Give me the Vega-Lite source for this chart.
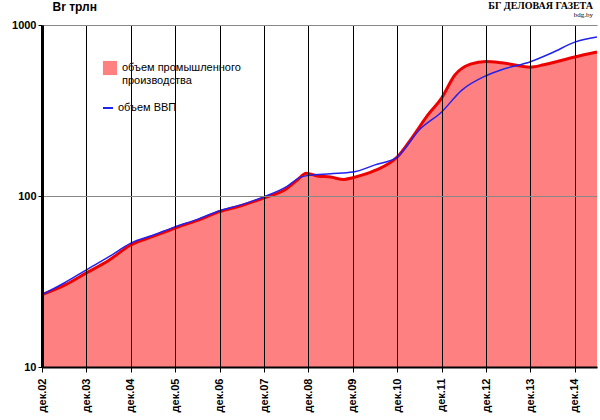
{
  "$schema": "https://vega.github.io/schema/vega-lite/v6.json",
  "width": 555,
  "height": 342,
  "autosize": "none",
  "padding": {"left": 42, "top": 25, "right": 3, "bottom": 53},
  "background": "white",
  "title": {"text": "БГ ДЕЛОВАЯ ГАЗЕТА", "subtitle": "bdg.by", "anchor": "end", "fontSize": 10, "subtitleFontSize": 7, "font": "Liberation Serif", "subtitleFont": "Liberation Serif", "fontWeight": "bold", "offset": 0, "dy": 18, "dx": -10, "subtitlePadding": 0},
  "datasets": {
    "prom": [
      {"t": 0, "v": 26.5}, {"t": 0.5, "v": 30}, {"t": 1, "v": 35.5}, {"t": 1.5, "v": 42},
      {"t": 2, "v": 51.7}, {"t": 2.5, "v": 58}, {"t": 3, "v": 65}, {"t": 3.5, "v": 72},
      {"t": 4, "v": 81}, {"t": 4.5, "v": 88}, {"t": 5, "v": 97.5}, {"t": 5.5, "v": 110},
      {"t": 5.75, "v": 124}, {"t": 5.95, "v": 136}, {"t": 6.2, "v": 131}, {"t": 6.5, "v": 129},
      {"t": 6.8, "v": 125}, {"t": 7, "v": 128}, {"t": 7.5, "v": 141}, {"t": 8, "v": 169},
      {"t": 8.3, "v": 213}, {"t": 8.7, "v": 300}, {"t": 9, "v": 374}, {"t": 9.3, "v": 510},
      {"t": 9.65, "v": 590}, {"t": 10, "v": 612}, {"t": 10.35, "v": 602}, {"t": 11, "v": 567},
      {"t": 11.3, "v": 585}, {"t": 12, "v": 650}, {"t": 12.5, "v": 695}
    ],
    "gdp": [
      {"t": 0, "v": 26.5}, {"t": 0.5, "v": 31}, {"t": 1, "v": 37}, {"t": 1.5, "v": 44},
      {"t": 2, "v": 53}, {"t": 2.5, "v": 59}, {"t": 3, "v": 66}, {"t": 3.5, "v": 73},
      {"t": 4, "v": 82}, {"t": 4.5, "v": 89}, {"t": 5, "v": 99}, {"t": 5.5, "v": 113},
      {"t": 5.8, "v": 128}, {"t": 6, "v": 132}, {"t": 6.5, "v": 135}, {"t": 7, "v": 138},
      {"t": 7.5, "v": 152}, {"t": 8, "v": 169}, {"t": 8.5, "v": 244}, {"t": 9, "v": 310},
      {"t": 9.45, "v": 415}, {"t": 10, "v": 505}, {"t": 10.35, "v": 548}, {"t": 11, "v": 610},
      {"t": 11.5, "v": 690}, {"t": 12, "v": 794}, {"t": 12.5, "v": 850}
    ]
  },
  "encoding": {
    "x": {"field": "t", "type": "quantitative", "scale": {"domain": [0, 12.5], "nice": false, "zero": false},
      "axis": {"values": [0,1,2,3,4,5,6,7,8,9,10,11,12], "labelExpr": "'дек.' + (datum.value < 8 ? '0' : '') + (datum.value + 2)", "labelAngle": -90, "labelAlign": "right", "labelBaseline": "middle", "labelFontWeight": "bold", "labelFontSize": 11, "labelPadding": 6, "title": null, "grid": true, "gridColor": "black", "gridOpacity": 1, "gridWidth": 1, "domainColor": "black", "domainWidth": 2, "tickColor": "black", "labelColor": "black", "labelFont": "Liberation Sans", "zindex": 1}},
    "y": {"field": "v", "type": "quantitative", "scale": {"type": "log", "domain": [10, 1000], "nice": false},
      "axis": {"values": [10, 100, 1000], "format": "d", "title": "Br трлн", "titleAngle": 0, "titleX": 10, "titleY": -12, "titleAlign": "left", "titleFontSize": 12, "titleFont": "Liberation Sans", "labelFont": "Liberation Sans", "labelFontSize": 11, "labelFontWeight": "bold", "labelColor": "black", "grid": true, "gridColor": "#888888", "domainColor": "black", "domainWidth": 3, "tickColor": "black", "tickSize": 4, "zindex": 1}}
  },
  "layer": [
    {"data": {"name": "prom"}, "mark": {"type": "area", "color": "#FF8080", "opacity": 1, "interpolate": "monotone"},
      "encoding": {"y2": {"datum": 10},
        "fill": {"datum": "объем промышленного производства", "type": "nominal", "scale": {"range": ["#FF8080"]},
        "legend": {"title": null, "orient": "none", "legendX": 60, "legendY": 35, "symbolType": "square", "symbolSize": 200, "labelFont": "Liberation Sans", "labelFontSize": 11, "labelExpr": "['объем промышленного', 'производства']", "labelLimit": 300}}}},
    {"data": {"name": "prom"}, "mark": {"type": "line", "color": "#EE0000", "strokeWidth": 3, "interpolate": "monotone"}, "encoding": {}},
    {"data": {"name": "gdp"}, "mark": {"type": "line", "color": "#2222EE", "strokeWidth": 1.5, "interpolate": "monotone"},
      "encoding": {"stroke": {"datum": "объем ВВП", "type": "nominal", "scale": {"range": ["#2222EE"]},
        "legend": {"title": null, "orient": "none", "legendX": 60, "legendY": 77, "symbolType": "stroke", "symbolStrokeWidth": 2, "labelFont": "Liberation Sans", "labelFontSize": 11}}}}
  ],
  "config": {"view": {"stroke": null}}
}
